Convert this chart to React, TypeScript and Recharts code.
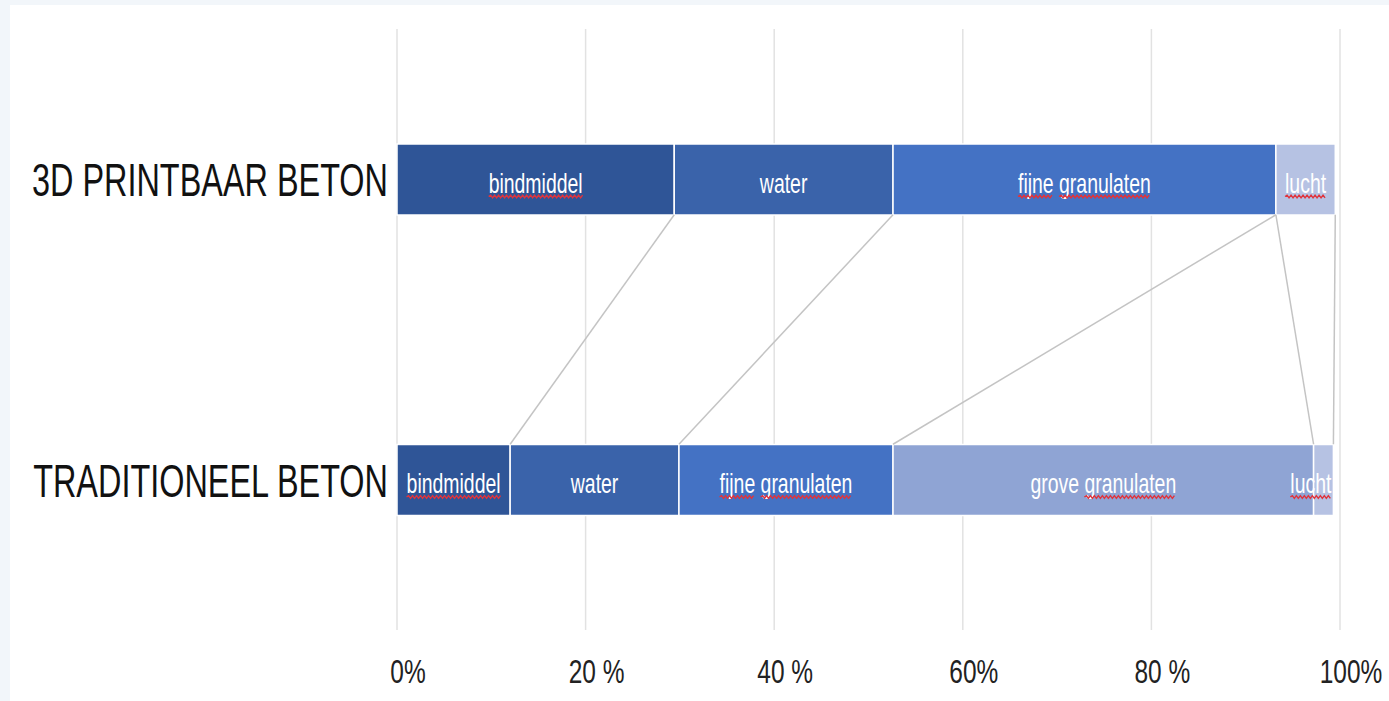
import { BarChart, Bar, XAxis, YAxis, CartesianGrid, ReferenceLine, LabelList } from "recharts";

const CATEGORIES = ["3D PRINTBAAR BETON", "TRADITIONEEL BETON"];
const SERIES = ["bindmiddel", "water", "fijne granulaten", "grove granulaten", "lucht"];
const PRINTBAAR = [29.4, 23.2, 40.6, 0, 6.3];
const TRADITIONEEL = [12.0, 17.9, 22.7, 44.6, 2.1];
const COLORS = ["#2f5597", "#3a63aa", "#4472c4", "#8fa4d4", "#b6c2e3"];
const TICKS = [0, 20, 40, 60, 80, 100];
const TICK_LABELS = ["0%", "20 %", "40 %", "60%", "80 %", "100%"];
// words with the red spell-check squiggle in the original
const FLAGGED = ["bindmiddel", "fijne", "granulaten", "lucht"];

const FONT = '"Liberation Sans", Arial, sans-serif';
const SQUEEZE = 0.72;
const BAR = 71;

const data = CATEGORIES.map((name, r) => {
  const vals = r === 0 ? PRINTBAAR : TRADITIONEEL;
  const row: Record<string, string | number> = { name };
  SERIES.forEach((s, i) => (row[s] = vals[i]));
  return row;
});

// running totals -> series lines between the two bars
const cumulative = (vals: number[]) =>
  vals.map((_, i) => vals.slice(0, i + 1).reduce((a, b) => a + b, 0));
const topEnds = cumulative(PRINTBAAR);
const bottomEnds = cumulative(TRADITIONEEL);

let ctx: CanvasRenderingContext2D | null = null;
function measure(text: string, size: number) {
  if (!ctx) ctx = document.createElement("canvas").getContext("2d");
  if (!ctx) return text.length * size * 0.5 * SQUEEZE;
  ctx.font = `${size}px ${FONT}`;
  return ctx.measureText(text).width * SQUEEZE;
}

function wave(x0: number, x1: number, y: number) {
  let d = `M${x0},${y}`;
  let up = true;
  for (let x = x0 + 2; x <= x1; x += 2) {
    d += ` L${x},${y + (up ? -1.4 : 1.4)}`;
    up = !up;
  }
  return d;
}

function segmentLabel(name: string) {
  return (props: any) => {
    const x = Number(props.x);
    const y = Number(props.y);
    const width = Number(props.width);
    const height = Number(props.height);
    if (!props.value) return null;
    const size = 27;
    const total = measure(name, size);
    const fits = total < width - 4;
    const cx = fits ? x + width / 2 : x + width - 2 - total / 2;
    const left = cx - total / 2;
    const base = y + height / 2 + 13;
    const space = measure(" ", size);
    let offset = 0;
    const waves: any[] = [];
    name.split(" ").forEach((w, i) => {
      const ww = measure(w, size);
      if (FLAGGED.includes(w)) {
        waves.push(
          <path key={i} d={wave(left + offset, left + offset + ww, base + 4)} stroke="#e0343c" strokeWidth={1.4} fill="none" />
        );
      }
      offset += ww + space;
    });
    return (
      <g>
        <text
          transform={`translate(${cx},${base}) scale(${SQUEEZE},1)`}
          textAnchor="middle"
          fill="#fff"
          fontSize={size}
          fontFamily={FONT}
        >
          {name}
        </text>
        {waves}
      </g>
    );
  };
}

const SeriesLine = (props: any) => (
  <line
    x1={props.x1}
    y1={props.y1 + BAR / 2}
    x2={props.x2}
    y2={props.y2 - BAR / 2}
    stroke="#c4c4c4"
    strokeWidth={1.5}
  />
);

const CategoryTick = (props: any) => (
  <text
    transform={`translate(${props.x - 9},${props.y + 17}) scale(0.69,1)`}
    textAnchor="end"
    fill="#111"
    fontSize={47}
    fontFamily={FONT}
  >
    {props.payload.value}
  </text>
);

const PercentTick = (props: any) => {
  const i = TICKS.indexOf(props.payload.value);
  return (
    <text
      transform={`translate(${props.x + 11},${props.y + 53}) scale(${SQUEEZE},1)`}
      textAnchor="middle"
      fill="#222"
      fontSize={34}
      fontFamily={FONT}
    >
      {TICK_LABELS[i]}
    </text>
  );
};

export default function App() {
  return (
    <div style={{ position: "absolute", left: 0, top: 0, width: 1389, height: 701, background: "#f2f6fa" }}>
      <div style={{ position: "absolute", left: 10, top: 5, right: 0, bottom: 0, background: "#fff" }} />
      <div style={{ position: "absolute", left: 0, top: 0 }}>
        <BarChart
          width={1389}
          height={701}
          data={data}
          layout="vertical"
          margin={{ top: 29, right: 49, bottom: 0, left: 0 }}
        >
          <CartesianGrid horizontal={false} stroke="#e2e2e2" strokeWidth={1.5} />
          <XAxis
            type="number"
            domain={[0, 100]}
            ticks={TICKS}
            height={71}
            axisLine={false}
            tickLine={false}
            tickSize={0}
            tickMargin={0}
            tick={<PercentTick />}
          />
          <YAxis
            type="category"
            dataKey="name"
            width={397}
            axisLine={false}
            tickLine={false}
            tickSize={0}
            tickMargin={0}
            tick={<CategoryTick />}
          />
          {SERIES.map((s, i) => (
            <Bar
              key={s}
              dataKey={s}
              stackId="a"
              fill={COLORS[i]}
              stroke="#fff"
              strokeWidth={1.5}
              barSize={BAR}
              isAnimationActive={false}
            >
              <LabelList dataKey={s} content={segmentLabel(s)} />
            </Bar>
          ))}
          {SERIES.map((s, i) => (
            <ReferenceLine
              key={`line-${s}`}
              segment={[
                { x: topEnds[i], y: CATEGORIES[0] },
                { x: bottomEnds[i], y: CATEGORIES[1] },
              ]}
              ifOverflow="visible"
              shape={SeriesLine}
            />
          ))}
        </BarChart>
      </div>
    </div>
  );
}
